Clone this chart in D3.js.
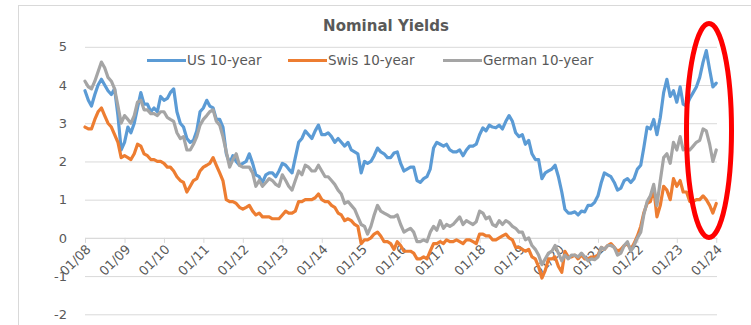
<!DOCTYPE html>
<html>
<head>
<meta charset="utf-8">
<script src="https://cdn.jsdelivr.net/npm/d3@7"></script>
<style>
  html, body { margin: 0; padding: 0; background: #ffffff; }
  svg { display: block; }
  text { font-family: "DejaVu Sans", Verdana, sans-serif; fill: #595959; }
</style>
</head>
<body>
<svg id="chart" width="751" height="325"></svg>
<script>
// Monthly 10-year government bond yields (%), January 2008 to January 2024
const startYear = 2008;
const usYields = [
  3.85, 3.6, 3.45, 3.75, 4.0, 4.15, 4.0, 3.85, 3.75, 3.9, 3.2, 2.3,
  2.5, 2.9, 2.75, 3.0, 3.4, 3.8, 3.5, 3.5, 3.3, 3.4, 3.3, 3.7,
  3.6, 3.65, 3.8, 3.9, 3.3, 3.0, 2.9, 2.6, 2.5, 2.55, 2.8, 3.3,
  3.4, 3.6, 3.45, 3.4, 3.1, 3.1, 2.9, 2.2, 1.95, 2.15, 2.0, 1.9,
  1.95, 2.0, 2.2, 1.95, 1.65, 1.6, 1.45, 1.65, 1.7, 1.7, 1.6, 1.75,
  1.95, 1.9, 1.8, 1.7, 2.1, 2.5, 2.6, 2.8, 2.7, 2.6, 2.8, 2.95,
  2.7, 2.7, 2.75, 2.65, 2.5, 2.6, 2.5, 2.4, 2.5, 2.3, 2.25, 2.2,
  1.7, 2.0, 1.95, 2.0, 2.15, 2.35, 2.25, 2.2, 2.1, 2.1, 2.22, 2.25,
  1.95, 1.75, 1.8, 1.85, 1.85, 1.5, 1.45, 1.55, 1.6, 1.8, 2.35, 2.5,
  2.45, 2.4, 2.45, 2.3, 2.25, 2.25, 2.3, 2.15, 2.3, 2.4, 2.4, 2.45,
  2.7, 2.88, 2.8, 2.95, 2.9, 2.88, 2.95, 2.85, 3.05, 3.2, 3.05, 2.75,
  2.65, 2.7, 2.45, 2.55, 2.2, 2.05, 2.05, 1.55, 1.7, 1.75, 1.8, 1.9,
  1.6, 1.2, 0.75, 0.65, 0.65, 0.68, 0.6, 0.7, 0.68, 0.85, 0.85, 0.93,
  1.1, 1.45, 1.7, 1.65, 1.6, 1.45, 1.25, 1.3, 1.5, 1.55, 1.45, 1.55,
  1.8, 1.9, 2.35, 2.9, 2.85, 3.1, 2.7, 3.15, 3.8, 4.15, 3.7, 3.85,
  3.55, 3.95, 3.5, 3.45, 3.65, 3.8, 3.95, 4.2, 4.6, 4.9, 4.4, 3.95,
  4.05
];
const swissYields = [
  2.9, 2.85, 2.85, 3.1, 3.3, 3.4, 3.2, 3.0, 2.9, 2.7, 2.5, 2.1,
  2.15, 2.1, 2.05, 2.2, 2.45, 2.4, 2.2, 2.15, 2.05, 2.05, 2.0, 2.0,
  1.95, 1.85, 1.85, 1.75, 1.6, 1.5, 1.45, 1.2, 1.35, 1.5, 1.55, 1.75,
  1.85, 1.9, 1.95, 2.1, 1.9, 1.7, 1.5, 1.0, 0.95, 0.95, 0.9, 0.8,
  0.75, 0.8, 0.85, 0.7, 0.6, 0.65, 0.55, 0.55, 0.55, 0.5, 0.5, 0.5,
  0.6, 0.7, 0.65, 0.65, 0.7, 0.95, 0.95, 1.0, 1.0, 1.0, 1.05, 1.15,
  1.0, 0.95, 0.95, 0.85, 0.8, 0.65, 0.6, 0.45, 0.5, 0.45, 0.35, 0.3,
  -0.15, -0.05, -0.05, 0.0, 0.1, 0.15, 0.05, -0.1, -0.1, -0.15, -0.3, -0.1,
  -0.2, -0.35, -0.35, -0.35, -0.4, -0.55, -0.55, -0.5, -0.55, -0.35, -0.15, -0.15,
  -0.1, -0.15, -0.05, -0.1, -0.1, -0.05, -0.1, -0.15, -0.05, -0.05, -0.1, -0.15,
  0.1, 0.1, 0.05, 0.05, -0.05, -0.05, 0.0, 0.05, 0.1, 0.0, -0.05, -0.25,
  -0.25, -0.3, -0.35, -0.3, -0.5, -0.55, -0.75, -1.05, -0.85, -0.55, -0.55, -0.5,
  -0.75, -0.9, -0.35, -0.5, -0.5, -0.45, -0.55, -0.45, -0.55, -0.55, -0.5, -0.5,
  -0.45, -0.25, -0.3, -0.2, -0.15, -0.25, -0.35, -0.3, -0.2, -0.15, -0.3, -0.15,
  0.05, 0.3, 0.65, 0.9, 0.95, 1.3, 0.55, 0.85, 1.35, 1.25, 1.0, 1.55,
  1.35, 1.5, 1.2, 1.2, 0.95, 0.95, 1.0, 1.0, 1.1, 1.0, 0.85, 0.65,
  0.9
];
const germanYields = [
  4.1, 3.95, 3.9, 4.1, 4.35, 4.6, 4.45, 4.2, 4.1, 3.9, 3.45, 3.0,
  3.2, 3.1, 3.0, 3.2, 3.55, 3.6, 3.35, 3.35, 3.25, 3.25, 3.2, 3.3,
  3.3, 3.15, 3.1, 3.05, 2.75, 2.6, 2.65, 2.3, 2.3, 2.45, 2.65, 2.95,
  3.1, 3.2, 3.3, 3.35, 3.05, 2.95, 2.65, 2.25, 1.85, 2.05, 2.2, 1.9,
  1.85, 1.85, 1.85, 1.7, 1.35, 1.5, 1.35, 1.45, 1.55, 1.5, 1.4, 1.35,
  1.65, 1.5, 1.35, 1.25, 1.5, 1.75, 1.65, 1.9, 1.85, 1.75, 1.75, 1.9,
  1.75, 1.6, 1.6, 1.5, 1.4, 1.25, 1.15, 0.9, 0.95, 0.85, 0.75, 0.55,
  0.35, 0.3, 0.1, 0.3, 0.6, 0.85, 0.7, 0.65, 0.6, 0.55, 0.55, 0.6,
  0.35, 0.15, 0.2, 0.25, 0.15, -0.1, -0.1, -0.05, -0.1, 0.15, 0.3, 0.2,
  0.45, 0.25, 0.35, 0.3, 0.35, 0.45, 0.55, 0.35, 0.45, 0.4, 0.35, 0.42,
  0.7, 0.65, 0.5, 0.55, 0.35, 0.3, 0.45, 0.35, 0.45, 0.4, 0.3, 0.25,
  0.15, 0.15, -0.05, 0.0, -0.2, -0.3, -0.45, -0.7, -0.55, -0.4, -0.35, -0.2,
  -0.4, -0.6, -0.45, -0.55, -0.45, -0.45, -0.5, -0.4, -0.5, -0.6, -0.55, -0.57,
  -0.5, -0.25, -0.3, -0.2, -0.2, -0.25, -0.45, -0.4, -0.2, -0.1, -0.35, -0.2,
  0.0, 0.15, 0.6, 0.95, 1.1, 1.4, 0.85, 1.5, 2.1, 2.2, 1.95, 2.5,
  2.3, 2.65, 2.3, 2.35, 2.3, 2.4, 2.5, 2.55, 2.85, 2.8, 2.45, 2.0,
  2.3
];
const seriesNames = ["US 10-year", "Swis 10-year", "German 10-year"];
const seriesColors = ["#5b9bd5", "#ed7d31", "#a5a5a5"];
const yTicks = [-2, -1, 0, 1, 2, 3, 4, 5];
const tickYears = d3.range(2008, 2025);
const chartTitle = "Nominal Yields";

const months = usYields.map((_, i) => new Date(startYear, i, 1));
const series = [usYields, swissYields, germanYields].map((vals, k) => ({
  name: seriesNames[k],
  color: seriesColors[k],
  points: vals.map((v, i) => ({ date: months[i], value: v }))
}));

const svg = d3.select("#chart");

// Outer chart frame
svg.append("rect")
  .attr("x", 18.5).attr("y", 5.5)
  .attr("width", 760).attr("height", 340)
  .attr("fill", "#ffffff")
  .attr("stroke", "#d9d9d9").attr("stroke-width", 1);

const x = d3.scaleTime()
  .domain([new Date(2008, 0, 1), new Date(2024, 0, 8)])
  .range([85, 717]);
const y = d3.scaleLinear()
  .domain([-2, 5])
  .range([314.3, 46.8]);

// Horizontal gridlines and value labels (plain hyphen for negatives)
const yAxis = svg.append("g")
  .attr("transform", `translate(${x.range()[0]},0)`)
  .call(d3.axisLeft(y)
    .tickValues(yTicks)
    .tickSize(-(x.range()[1] - x.range()[0]))
    .tickPadding(18)
    .tickFormat(d => String(d)));
yAxis.select(".domain").remove();
yAxis.selectAll(".tick line").attr("stroke", "#d9d9d9").attr("stroke-width", 1);
yAxis.selectAll(".tick text")
  .attr("font-size", 13)
  .attr("fill", "#595959")
  .style("font-family", "'DejaVu Sans', Verdana, sans-serif");

// Date axis along the zero line
const xAxis = svg.append("g")
  .attr("transform", `translate(0,${y(0)})`)
  .call(d3.axisBottom(x)
    .tickValues(tickYears.map(yr => new Date(yr, 0, 1)))
    .tickSize(5)
    .tickSizeOuter(0)
    .tickFormat(d3.timeFormat("%m/%y")));
xAxis.select(".domain").attr("stroke", "#d9d9d9");
xAxis.selectAll(".tick line").attr("stroke", "#d9d9d9");
xAxis.selectAll(".tick text")
  .attr("font-size", 13)
  .attr("fill", "#595959")
  .style("font-family", "'DejaVu Sans', Verdana, sans-serif")
  .attr("text-anchor", "end")
  .attr("dy", "0.35em")
  .attr("transform", "translate(3,9) rotate(-45)")
  .attr("x", 0).attr("y", 0);

// Yield lines
const line = d3.line()
  .x(d => x(d.date))
  .y(d => y(d.value));
svg.append("g").selectAll("path")
  .data(series)
  .join("path")
  .attr("d", d => line(d.points))
  .attr("fill", "none")
  .attr("stroke", d => d.color)
  .attr("stroke-width", 3.2)
  .attr("stroke-linejoin", "round")
  .attr("stroke-linecap", "round");

// Title
svg.append("text")
  .attr("x", 386).attr("y", 31)
  .attr("text-anchor", "middle")
  .attr("font-size", 15)
  .attr("font-weight", "bold")
  .attr("fill", "#595959")
  .text(chartTitle);

// Legend
const legendX = [147, 288, 443];
const legend = svg.append("g").selectAll("g")
  .data(series)
  .join("g")
  .attr("transform", (d, i) => `translate(${legendX[i]},60.5)`);
legend.append("line")
  .attr("x1", 0).attr("x2", 39)
  .attr("stroke", d => d.color)
  .attr("stroke-width", 3);
legend.append("text")
  .attr("x", 40).attr("y", 0)
  .attr("dy", "0.35em")
  .attr("font-size", 13.5)
  .attr("fill", "#595959")
  .text(d => d.name);

// Highlight around the latest readings
svg.append("ellipse")
  .attr("cx", 709).attr("cy", 130.5)
  .attr("rx", 22.5).attr("ry", 107)
  .attr("fill", "none")
  .attr("stroke", "#ff0000")
  .attr("stroke-width", 5);
</script>
</body>
</html>
